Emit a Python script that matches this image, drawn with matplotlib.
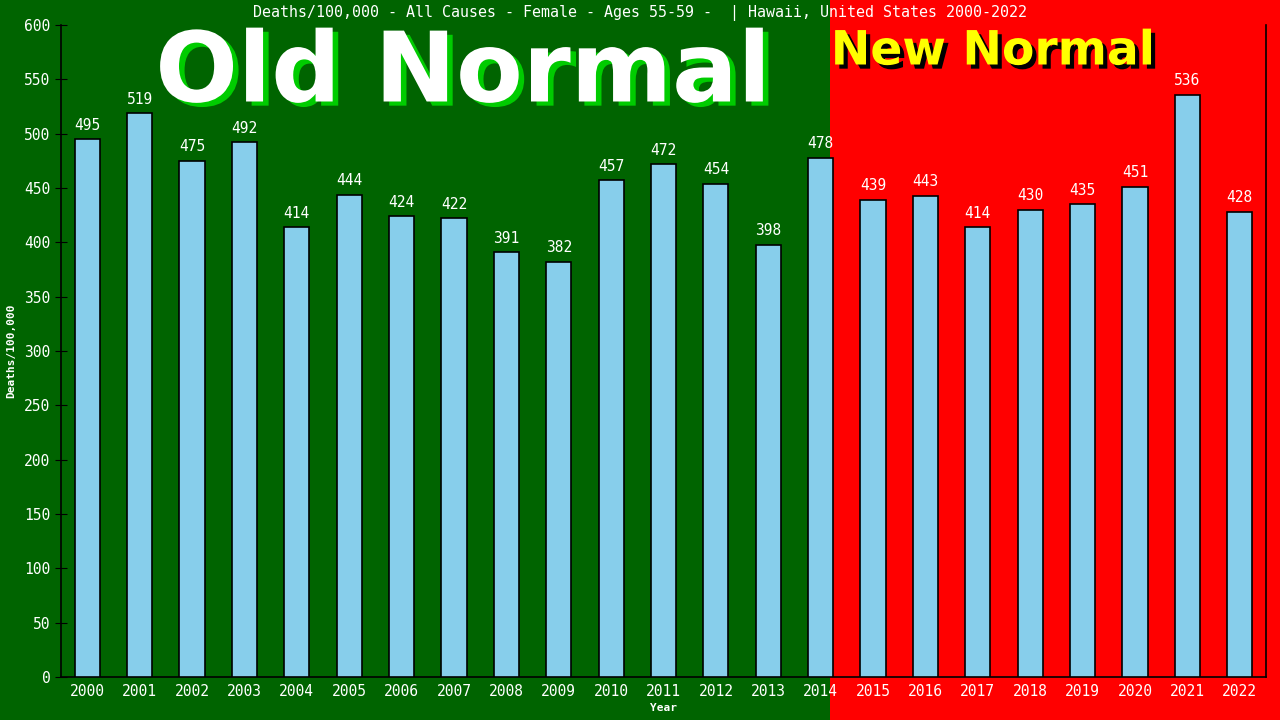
import matplotlib.pyplot as plt
from matplotlib.patches import Rectangle
import matplotlib.patheffects as pe

years = [str(y) for y in range(2000, 2023)]
deaths = [495, 519, 475, 492, 414, 444, 424, 422, 391, 382, 457, 472, 454,
          398, 478, 439, 443, 414, 430, 435, 451, 536, 428]

mono = 'DejaVu Sans Mono'

fig = plt.figure(figsize=(12.8, 7.2), dpi=100)
fig.patch.set_facecolor('#006400')
fig.patches.append(Rectangle((830 / 1280, 0), 1 - 830 / 1280, 1, transform=fig.transFigure,
                             facecolor='#ff0000', edgecolor='none', zorder=-5))

ax = fig.add_axes([61 / 1280, 43 / 720, 1205 / 1280, 652 / 720])
ax.set_facecolor('none')

x = range(len(years))
ax.bar(x, deaths, width=0.48, color='#87ceeb', edgecolor='black', linewidth=1.2, zorder=3)
for i, v in enumerate(deaths):
    ax.text(i, v + 6, str(v), ha='center', va='bottom', color='white',
            family=mono, fontsize=10.5, zorder=4)

ax.set_xlim(-0.5, len(years) - 0.5)
ax.set_ylim(0, 600)
ax.set_yticks(range(0, 601, 50))
ax.set_xticks(list(x))
ax.set_xticklabels(years)
ax.tick_params(axis='y', direction='inout', length=8, colors='black', labelcolor='white',
               labelsize=10.5)
ax.tick_params(axis='x', length=0, labelcolor='white', labelsize=10.5, pad=5)
for lab in ax.get_xticklabels() + ax.get_yticklabels():
    lab.set_family(mono)

ax.spines['top'].set_visible(False)
for s in ['left', 'right', 'bottom']:
    ax.spines[s].set_color('black')
    ax.spines[s].set_linewidth(1.2)

ax.set_ylabel('Deaths/100,000', color='white', family=mono, fontsize=8, fontweight='bold', labelpad=6)
ax.set_xlabel('Year', color='white', family=mono, fontsize=8, fontweight='bold', labelpad=3)

fig.text(0.5, 1 - 13 / 720, 'Deaths/100,000 - All Causes - Female - Ages 55-59 -  | Hawaii, United States 2000-2022',
         ha='center', va='center', color='white', family=mono, fontsize=10.8)

fig.text(463 / 1280, 1 - 75 / 720, 'Old Normal', ha='center', va='center', color='white',
         fontsize=70, fontweight='bold', family='DejaVu Sans',
         path_effects=[pe.SimplePatchShadow(offset=(4, -3), shadow_rgbFace='#00cc00', alpha=1), pe.Normal()])
fig.text(993 / 1280, 1 - 52 / 720, 'New Normal', ha='center', va='center', color='#ffff00',
         fontsize=34, fontweight='bold', family='DejaVu Sans',
         path_effects=[pe.SimplePatchShadow(offset=(3, -3), shadow_rgbFace='black', alpha=1), pe.Normal()])

fig.savefig('out.png', dpi=100, facecolor=fig.get_facecolor())
